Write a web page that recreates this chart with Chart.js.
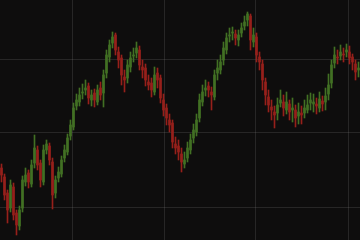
<!DOCTYPE html>
<html>
<head>
<meta charset="utf-8">
<script src="https://cdn.jsdelivr.net/npm/chart.js@4/dist/chart.umd.min.js"></script>
<style>
  html, body { margin: 0; padding: 0; background: #0e0d0d; }
  #chart { display: block; }
</style>
</head>
<body>
<canvas id="chart" width="360" height="240"></canvas>
<script>
// candle prices (one candle every 3px)
const openPrices = [72, 63, 47, 32, 53, 27, 14, 32, 58, 67, 56, 77, 90, 77, 58, 90, 94, 78, 47, 62,
  66, 82, 88, 104, 113, 134, 138, 147, 150, 154, 140, 147, 138, 152, 147, 167, 183, 197, 205, 188,
  182, 163, 162, 173, 184, 187, 190, 173, 172, 158, 157, 148, 167, 162, 140, 132, 120, 117, 96, 94,
  86, 76, 82, 90, 102, 108, 122, 138, 150, 154, 148, 143, 167, 170, 180, 190, 204, 207, 206, 200,
  207, 214, 220, 224, 198, 203, 183, 176, 158, 143, 133, 128, 127, 137, 138, 130, 136, 130, 130, 124,
  127, 127, 130, 137, 136, 136, 132, 139, 138, 146, 157, 177, 183, 184, 186, 188, 188, 183, 176, 170];
const closePrices = [65, 45, 30, 55, 25, 15, 30, 60, 65, 58, 75, 92, 75, 60, 90, 96, 80, 45, 60, 68,
  80, 90, 102, 115, 132, 140, 145, 148, 152, 142, 145, 140, 150, 145, 165, 185, 195, 203, 190, 180,
  165, 160, 175, 182, 185, 192, 175, 170, 160, 155, 150, 165, 160, 142, 130, 122, 115, 98, 92, 88,
  78, 80, 92, 100, 110, 120, 140, 148, 152, 150, 145, 165, 172, 178, 192, 202, 205, 208, 202, 205,
  212, 218, 226, 200, 205, 185, 178, 160, 145, 135, 130, 125, 135, 140, 132, 138, 128, 132, 122, 128,
  125, 132, 135, 140, 138, 134, 141, 136, 144, 155, 175, 185, 182, 188, 185, 190, 182, 178, 168, 172];
const highPrices = [76, 66, 50, 60, 57, 30, 34, 64, 72, 70, 80, 105, 94, 80, 95, 100, 97, 82, 64, 73,
  84, 95, 106, 120, 137, 146, 152, 156, 160, 157, 150, 151, 155, 158, 170, 190, 200, 208, 207, 193,
  185, 170, 180, 188, 192, 198, 194, 180, 176, 165, 162, 173, 172, 165, 146, 136, 126, 120, 103, 100,
  92, 88, 98, 106, 116, 126, 146, 155, 160, 158, 153, 170, 180, 185, 198, 207, 212, 213, 210, 210,
  217, 224, 228, 226, 212, 207, 188, 180, 162, 150, 140, 134, 142, 150, 145, 148, 140, 142, 135, 137,
  134, 140, 145, 147, 146, 142, 148, 144, 152, 166, 180, 193, 190, 195, 192, 196, 194, 186, 180, 178];
const lowPrices = [58, 40, 17, 28, 20, 5, 10, 28, 54, 52, 53, 72, 70, 53, 55, 86, 75, 31, 42, 58,
  63, 78, 85, 100, 110, 130, 134, 141, 145, 136, 134, 133, 135, 140, 133, 162, 178, 192, 185, 172,
  155, 148, 157, 168, 178, 182, 170, 162, 154, 150, 143, 145, 152, 137, 124, 115, 108, 92, 86, 80,
  68, 72, 78, 86, 97, 104, 118, 134, 144, 143, 130, 140, 160, 166, 175, 186, 198, 200, 195, 194,
  203, 210, 214, 190, 193, 178, 170, 150, 135, 128, 120, 112, 120, 133, 124, 126, 120, 118, 113, 116,
  116, 122, 127, 130, 128, 126, 128, 129, 130, 140, 152, 172, 176, 180, 178, 183, 176, 170, 160, 163];

// where the faint grid lines sit (candle index / price)
const xGrid = [23.8, 54.2, 84.8, 115.8];
const yGrid = [33, 108, 181];

const upColor = "rgb(66, 112, 36)";
const downColor = "rgb(150, 32, 27)";
const gridColor = "rgba(120, 120, 120, 0.24)";

let barColors = openPrices.map((o, i) => closePrices[i] >= o ? upColor : downColor);

let wicks = highPrices.map((h, i) => ({x: i, y: [lowPrices[i], h]}));
let bodies = openPrices.map((o, i) => ({x: i, y: [o, closePrices[i]]}));

const chart = new Chart(document.getElementById("chart").getContext("2d"), {
  type: "bar",
  data: {
    datasets: [
      {
        data: wicks,
        backgroundColor: barColors,
        barThickness: 1,
        grouped: false,
        order: 2
      },
      {
        data: bodies,
        backgroundColor: barColors,
        barThickness: 2,
        grouped: false,
        order: 1
      }
    ]
  },
  options: {
    responsive: false,
    animation: false,
    layout: {padding: 0},
    plugins: {
      legend: {display: false},
      tooltip: {enabled: false}
    },
    scales: {
      x: {
        type: "linear",
        min: -0.5,
        max: 119.5,
        offset: false,
        afterBuildTicks: (scale) => { scale.ticks = xGrid.map(v => ({value: v})) },
        ticks: {display: false},
        border: {display: false},
        grid: {color: gridColor, drawTicks: false, offset: false}
      },
      y: {
        min: 0,
        max: 240,
        afterBuildTicks: (scale) => { scale.ticks = yGrid.map(v => ({value: v})) },
        ticks: {display: false},
        border: {display: false},
        grid: {color: gridColor, drawTicks: false}
      }
    }
  }
});
</script>
</body>
</html>
